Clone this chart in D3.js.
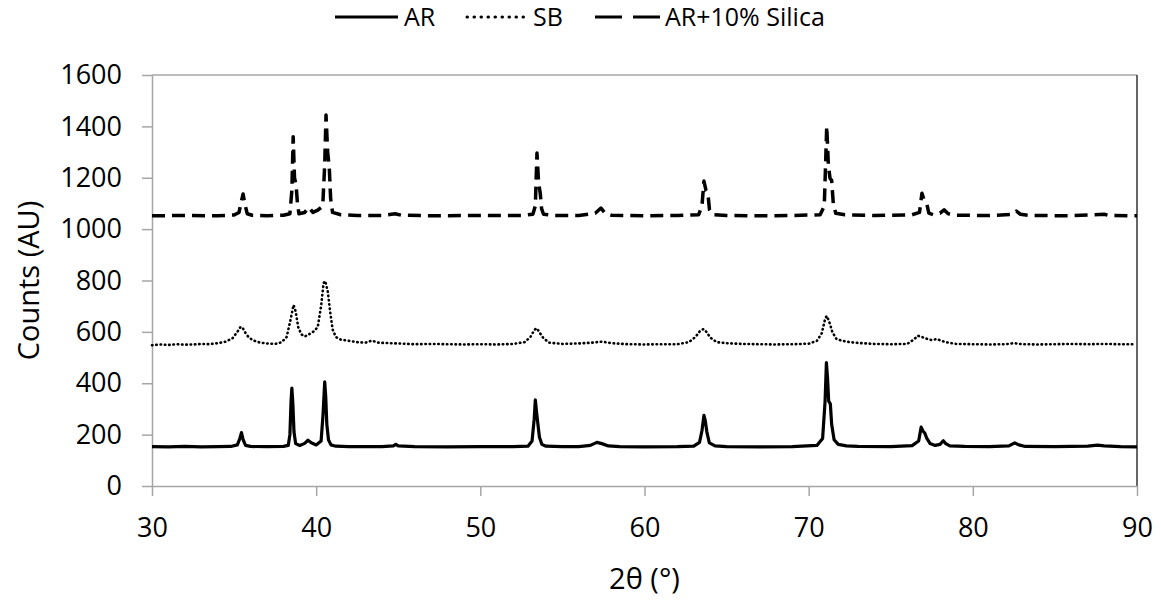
<!DOCTYPE html>
<html>
<head>
<meta charset="utf-8">
<script src="https://cdn.jsdelivr.net/npm/d3@7"></script>
<style>
  body { margin: 0; background: #fff; }
  text { font-family: "Open Sans", sans-serif; fill: #000; }
</style>
</head>
<body>
<svg id="chart"></svg>
<script>
// values, [2theta, counts]
var arData = [
  [30,153],[31,152],[32,154],[33,152],[34,153],[34.8,154],[35.2,160],[35.35,185],[35.45,208],[35.55,180],[35.7,158],[36,154],
  [37,153],[38,154],[38.3,158],[38.4,200],[38.47,330],[38.52,381],[38.58,320],[38.65,210],[38.75,165],[39,158],[39.3,166],
  [39.5,178],[39.7,168],[40,160],[40.3,175],[40.42,280],[40.52,405],[40.58,350],[40.65,240],[40.75,180],[40.9,160],[41.2,155],
  [42,153],[43,153],[44,153],[44.7,156],[44.85,162],[45,156],[46,153],[48,152],[50,153],[52,153],[52.9,155],[53.15,175],
  [53.28,260],[53.35,335],[53.42,290],[53.5,245],[53.6,190],[53.75,162],[54,155],[55,153],[56,153],[56.7,158],[57.1,170],
  [57.4,165],[57.8,156],[58.5,153],[60,152],[62,153],[63,155],[63.35,170],[63.5,215],[63.62,275],[63.7,255],[63.8,210],
  [63.95,168],[64.3,156],[65,153],[67,152],[69,153],[70.5,158],[70.85,185],[71.0,330],[71.08,480],[71.15,420],[71.22,330],
  [71.32,320],[71.4,240],[71.55,180],[71.8,162],[72.3,156],[73,154],[75,153],[76.3,157],[76.7,175],[76.85,229],[76.95,215],
  [77.08,205],[77.2,185],[77.4,165],[77.7,158],[78.0,162],[78.2,176],[78.35,165],[78.6,156],[79.5,154],[81,153],[82.2,156],
  [82.55,168],[82.8,160],[83.2,154],[85,153],[87,155],[87.6,159],[88,156],[89,153],[90,152]
];

var sbData = [
  [30,548],[30.5,551],[31,549],[31.5,552],[32,550],[32.5,551],[33,553],[33.5,552],[34,556],[34.5,562],[34.9,575],[35.2,600],
  [35.4,620],[35.55,612],[35.7,595],[35.9,578],[36.2,566],[36.6,558],[37,555],[37.5,553],[37.9,560],[38.2,580],[38.45,650],
  [38.62,705],[38.75,680],[38.9,620],[39.1,590],[39.3,582],[39.5,588],[39.7,596],[39.9,604],[40.1,620],[40.3,700],[40.45,790],
  [40.55,798],[40.7,760],[40.85,680],[41.0,610],[41.2,580],[41.5,570],[42,565],[42.5,560],[43.0,558],[43.4,566],[43.8,558],
  [44.5,556],[45,555],[46,552],[47,553],[48,552],[49,551],[50,552],[51,551],[52,553],[52.7,560],[53.05,580],[53.3,608],
  [53.45,614],[53.6,598],[53.85,575],[54.2,558],[55,553],[56,555],[56.8,558],[57.4,562],[58,556],[59,552],[60,551],[61,552],
  [62,552],[62.7,560],[63.1,580],[63.4,605],[63.6,611],[63.8,598],[64.0,578],[64.4,560],[65,556],[66,553],[67,552],[68,551],
  [69,552],[70,554],[70.5,565],[70.8,595],[71.0,650],[71.1,662],[71.25,640],[71.45,598],[71.7,572],[72.0,566],[72.5,560],
  [73,557],[74,553],[75,552],[76,553],[76.4,570],[76.65,585],[76.9,580],[77.2,573],[77.5,568],[77.8,572],[78.1,565],
  [78.5,558],[79,553],[80,552],[81,551],[82,552],[82.5,556],[83,552],[84,551],[85,552],[86,553],[87,552],[88,553],[89,552],
  [89.8,552]
];

var silicaData = [
  [30,1052],[32,1053],[34,1052],[35.0,1055],[35.3,1065],[35.45,1110],[35.55,1137],[35.65,1100],[35.8,1060],[36.1,1054],
  [37,1052],[38,1054],[38.4,1060],[38.52,1150],[38.6,1360],[38.68,1200],[38.78,1170],[38.86,1100],[38.95,1060],[39.3,1065],
  [39.55,1085],[39.8,1065],[40.1,1074],[40.4,1090],[40.52,1250],[40.6,1444],[40.7,1300],[40.8,1238],[40.88,1120],[41.0,1065],
  [41.5,1056],[42.5,1053],[44,1053],[44.8,1060],[45.2,1054],[47,1052],[50,1053],[52.5,1053],[53.2,1058],[53.35,1090],
  [53.45,1296],[53.55,1180],[53.65,1140],[53.73,1080],[53.85,1058],[54.5,1053],[56,1053],[57.0,1062],[57.35,1082],[57.6,1062],
  [58,1054],[60,1052],[62,1053],[63.3,1056],[63.5,1090],[63.62,1187],[63.75,1150],[63.86,1140],[63.96,1075],[64.15,1056],
  [65,1053],[67,1052],[69,1053],[70.7,1056],[70.95,1090],[71.03,1250],[71.1,1401],[71.2,1250],[71.3,1198],[71.4,1190],
  [71.5,1100],[71.65,1062],[72.2,1056],[74,1053],[76.3,1056],[76.75,1065],[76.9,1140],[77.05,1110],[77.2,1098],[77.32,1062],
  [77.6,1056],[78.0,1062],[78.25,1075],[78.5,1060],[79,1054],[81,1053],[82.4,1057],[82.65,1070],[82.9,1058],[83.5,1053],
  [86,1052],[88,1058],[88.3,1053],[90,1052]
];

var seriesNames = ["AR", "SB", "AR+10% Silica"];
var xTicks = [30, 40, 50, 60, 70, 80, 90];
var yTicks = [0, 200, 400, 600, 800, 1000, 1200, 1400, 1600];

var width = 1161,
    height = 600,
    margin = {top: 75, right: 24, bottom: 114, left: 152},
    axisColor = "#a6a6a6";

var svg = d3.select("#chart").attr("width", width).attr("height", height);

var x = d3.scaleLinear().domain([30, 90]).range([margin.left, width - margin.right]);
var y = d3.scaleLinear().domain([0, 1600]).range([height - margin.bottom, margin.top]);

// plot border (top gray, right dark)
svg.append("line")
  .attr("x1", x(30)).attr("x2", x(90))
  .attr("y1", y(1600)).attr("y2", y(1600))
  .attr("stroke", axisColor).attr("stroke-width", 1.5);
svg.append("line")
  .attr("x1", x(90)).attr("x2", x(90))
  .attr("y1", y(1600)).attr("y2", y(0))
  .attr("stroke", "#333").attr("stroke-width", 1.5);

var xAxis = svg.append("g")
  .attr("transform", "translate(0," + y(0) + ")")
  .call(d3.axisBottom(x).tickValues(xTicks).tickFormat(d3.format("d"))
    .tickSize(10).tickPadding(22).tickSizeOuter(0));
var yAxis = svg.append("g")
  .attr("transform", "translate(" + x(30) + ",0)")
  .call(d3.axisLeft(y).tickValues(yTicks).tickFormat(d3.format("d"))
    .tickSize(10).tickPadding(20).tickSizeOuter(0));

[xAxis, yAxis].forEach(function(g) {
  g.select(".domain").attr("stroke", axisColor).attr("stroke-width", 1.5);
  g.selectAll(".tick line").attr("stroke", axisColor).attr("stroke-width", 1.5);
  g.selectAll(".tick text").style("font-family", "Open Sans").style("font-size", "27px").attr("fill", "#000");
});

svg.append("text")
  .attr("x", (x(30) + x(90)) / 2).attr("y", 589)
  .attr("text-anchor", "middle")
  .style("font-size", "29px")
  .text("2θ (°)");

svg.append("text")
  .attr("transform", "translate(39," + (y(0) + y(1600)) / 2 + ") rotate(-90)")
  .attr("text-anchor", "middle")
  .style("font-size", "29px")
  .text("Counts (AU)");

var line = d3.line()
  .x(function(d) { return x(d[0]); })
  .y(function(d) { return y(d[1]); });

var styles = [
  {data: arData, width: 3.2, dash: null, cap: "butt", legendDash: null},
  {data: sbData, width: 2.6, dash: "0.5,3.8", cap: "round", legendDash: "0.5,6.5"},
  {data: silicaData, width: 3.5, dash: "13,7", cap: "butt", legendDash: "27,11"}
];

styles.forEach(function(s) {
  svg.append("path")
    .datum(s.data)
    .attr("d", line)
    .attr("fill", "none")
    .attr("stroke", "#000")
    .attr("stroke-width", s.width)
    .attr("stroke-linecap", s.cap)
    .attr("stroke-linejoin", "round")
    .attr("stroke-dasharray", s.dash);
});

// legend
var legendPos = [
  {x1: 335, x2: 398, tx: 404},
  {x1: 467, x2: 524, tx: 533},
  {x1: 595, x2: 660, tx: 665}
];
var legendY = 17;

legendPos.forEach(function(p, i) {
  svg.append("line")
    .attr("x1", p.x1).attr("x2", p.x2)
    .attr("y1", legendY).attr("y2", legendY)
    .attr("stroke", "#000")
    .attr("stroke-width", 3)
    .attr("stroke-linecap", styles[i].cap)
    .attr("stroke-dasharray", styles[i].legendDash);
  svg.append("text")
    .attr("x", p.tx).attr("y", legendY + 9)
    .style("font-size", "25px")
    .text(seriesNames[i]);
});
</script>
</body>
</html>
